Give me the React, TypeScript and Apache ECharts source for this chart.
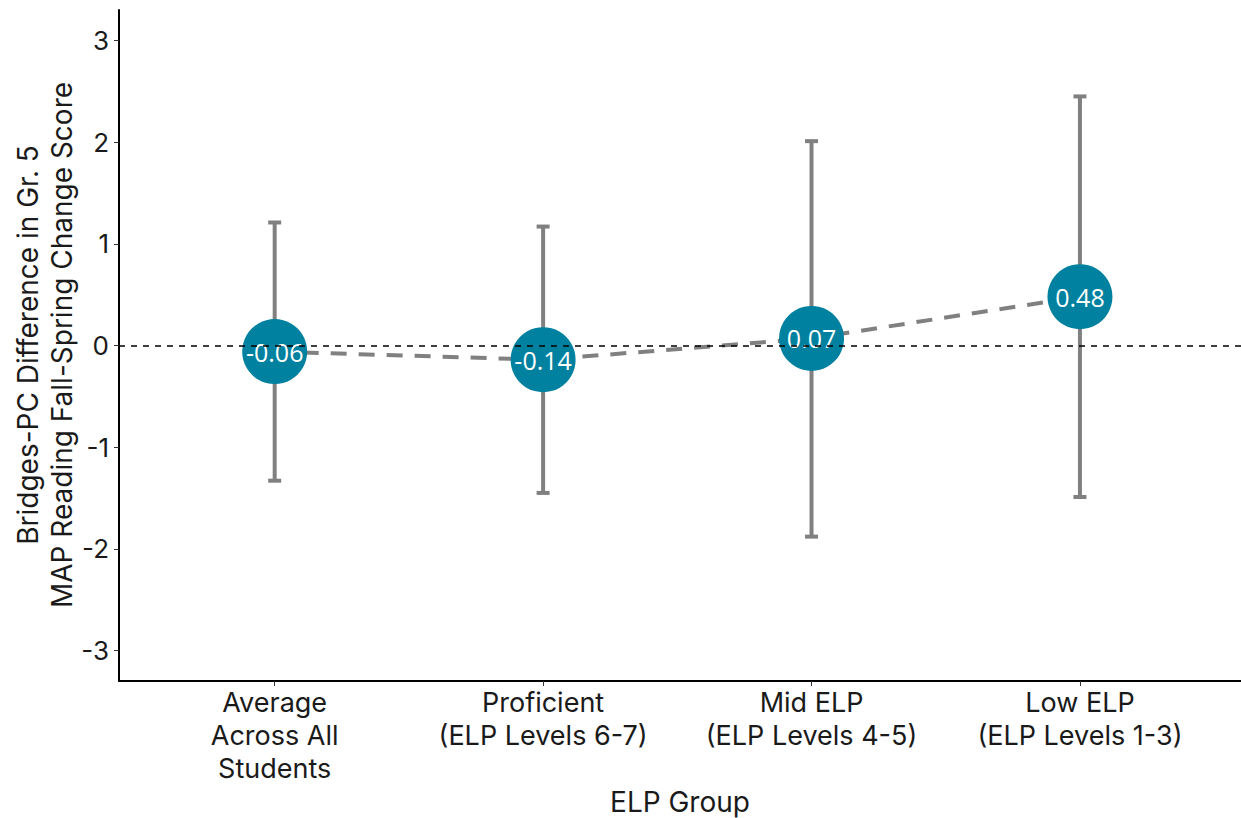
import React, { useEffect, useRef } from "react";
import * as echarts from "echarts";

// ELP groups along the x axis (positions 1..4)
const categories = [
  "Average\nAcross All\nStudents",
  "Proficient\n(ELP Levels 6-7)",
  "Mid ELP\n(ELP Levels 4-5)",
  "Low ELP\n(ELP Levels 1-3)",
];
const estimates = [-0.06, -0.14, 0.07, 0.48];
const lowerBounds = [-1.33, -1.45, -1.88, -1.49];
const upperBounds = [1.21, 1.17, 2.01, 2.45];
const yTicks = [-3, -2, -1, 0, 1, 2, 3];

const AXIS_FONT = "Inter, 'Open Sans', sans-serif";
const GREY = "#808080";
const TEAL = "#00819f";
const INK = "#1a1a1a";

export default function App() {
  const ref = useRef<HTMLDivElement>(null);

  useEffect(() => {
    if (!ref.current) return;
    const chart = echarts.init(ref.current, null, { renderer: "svg" });

    const positions = categories.map((_, i) => i + 1);
    const pointData = positions.map((x, i) => [x, estimates[i]]);
    const barData = positions.map((x, i) => [x, lowerBounds[i], upperBounds[i]]);

    chart.setOption({
      animation: false,
      backgroundColor: "#ffffff",
      grid: {
        left: 119,
        right: 0,
        top: 10,
        bottom: 137,
        containLabel: false,
        outerBoundsMode: "none",
      },
      xAxis: {
        type: "value",
        min: 0.42,
        max: 4.6,
        splitLine: { show: false },
        axisLine: { show: true, onZero: false, lineStyle: { color: "#000", width: 2 } },
        axisTick: {
          show: true,
          customValues: positions,
          length: 5,
          lineStyle: { color: "#333", width: 1 },
        },
        axisLabel: {
          customValues: positions,
          margin: 5,
          fontFamily: AXIS_FONT,
          fontSize: 27,
          lineHeight: 33,
          color: INK,
          verticalAlign: "top",
          formatter: (v: number) => categories[Math.round(v) - 1] ?? "",
        },
      },
      yAxis: {
        type: "value",
        min: -3.3,
        max: 3.3,
        splitLine: { show: false },
        axisLine: { show: true, onZero: false, lineStyle: { color: "#000", width: 2 } },
        axisTick: {
          show: true,
          customValues: yTicks,
          length: 5,
          lineStyle: { color: "#333", width: 1 },
        },
        axisLabel: {
          customValues: yTicks,
          margin: 10,
          fontFamily: AXIS_FONT,
          fontSize: 26,
          color: INK,
        },
      },
      graphic: [
        {
          // y-axis title, two lines, rotated
          type: "text",
          x: 45,
          y: 345,
          rotation: Math.PI / 2,
          style: {
            text: "Bridges-PC Difference in Gr. 5\nMAP Reading Fall-Spring Change Score",
            fontFamily: AXIS_FONT,
            fontSize: 28,
            lineHeight: 34,
            fill: INK,
            align: "center",
            verticalAlign: "middle",
          },
        },
        {
          // x-axis title
          type: "text",
          x: 680,
          y: 802,
          style: {
            text: "ELP Group",
            fontFamily: AXIS_FONT,
            fontSize: 28,
            lineHeight: 34,
            fill: INK,
            align: "center",
            verticalAlign: "middle",
          },
        },
      ],
      series: [
        {
          // reference line at zero
          type: "line",
          data: [],
          silent: true,
          markLine: {
            symbol: "none",
            silent: true,
            label: { show: false },
            lineStyle: { color: "#000", type: [6, 6], width: 1.6 },
            data: [{ yAxis: 0 }],
          },
          z: 1,
        },
        {
          // confidence intervals with caps
          type: "custom",
          data: barData,
          z: 2,
          renderItem: (params: any, api: any) => {
            const x = api.value(0);
            const lo = api.coord([x, api.value(1)]);
            const hi = api.coord([x, api.value(2)]);
            const cap = 6.5;
            const style = { stroke: GREY, lineWidth: 4, fill: "none" };
            return {
              type: "group",
              children: [
                { type: "line", shape: { x1: lo[0], y1: lo[1], x2: hi[0], y2: hi[1] }, style },
                { type: "line", shape: { x1: hi[0] - cap, y1: hi[1], x2: hi[0] + cap, y2: hi[1] }, style },
                { type: "line", shape: { x1: lo[0] - cap, y1: lo[1], x2: lo[0] + cap, y2: lo[1] }, style },
              ],
            };
          },
        },
        {
          // trend across groups
          type: "line",
          data: pointData,
          symbol: "none",
          lineStyle: { color: GREY, width: 4, type: [16, 12] },
          z: 3,
        },
        {
          type: "scatter",
          data: pointData,
          symbol: "circle",
          symbolSize: 65,
          itemStyle: { color: TEAL, opacity: 1 },
          label: {
            show: true,
            position: "inside",
            formatter: (p: any) => p.value[1].toFixed(2),
            fontFamily: "'Open Sans', sans-serif",
            fontSize: 25,
            color: "#ffffff",
          },
          z: 4,
        },
      ],
    });

    return () => chart.dispose();
  }, []);

  return (
    <div
      ref={ref}
      style={{ position: "fixed", left: 0, top: 0, width: 1241, height: 818, background: "#fff" }}
    />
  );
}
